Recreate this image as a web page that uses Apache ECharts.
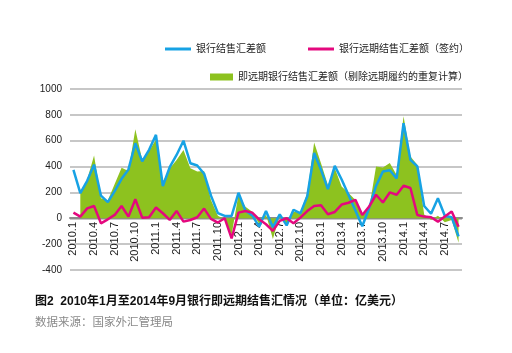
<!DOCTYPE html>
<html>
<head>
<meta charset="utf-8">
<script src="https://cdn.jsdelivr.net/npm/echarts@6/dist/echarts.min.js"></script>
<style>
  html, body { margin: 0; padding: 0; background: #fff; }
  #main { width: 512px; height: 353px; }
</style>
</head>
<body>
<div id="main"></div>
<script>
// 月份
var months = ['2010.1','2010.2','2010.3','2010.4','2010.5','2010.6','2010.7','2010.8','2010.9','2010.10','2010.11','2010.12',
    '2011.1','2011.2','2011.3','2011.4','2011.5','2011.6','2011.7','2011.8','2011.9','2011.10','2011.11','2011.12',
    '2012.1','2012.2','2012.3','2012.4','2012.5','2012.6','2012.7','2012.8','2012.9','2012.10','2012.11','2012.12',
    '2013.1','2013.2','2013.3','2013.4','2013.5','2013.6','2013.7','2013.8','2013.9','2013.10','2013.11','2013.12',
    '2014.1','2014.2','2014.3','2014.4','2014.5','2014.6','2014.7','2014.8','2014.9'];

// 银行结售汇差额
var bankNet = [375, 195, 290, 415, 175, 125, 210, 305, 378, 580, 440, 530,
    645, 250, 395, 490, 600, 426, 408, 345, 175, 40, 18, 18,
    197, 60, 22, -65, 56, -70, 30, -55, 66, 38, 170, 505,
    375, 226, 405, 300, 180, 60, -62, 80, 250, 362, 372, 308,
    735, 452, 402, 95, 35, 155, 20, 8, -140];

// 银行远期结售汇差额（签约）
var forwardNet = [44, 13, 77, 95, -39, -8, 26, 95, 13, 147, 5, 8,
    83, 39, -13, 57, -26, -13, 8, 75, -5, -33, 0, -156,
    44, 56, 44, -8, -46, -97, -20, 0, -38, 5, 56, 95,
    100, 31, 49, 106, 120, 143, 26, 91, 182, 122, 200, 182,
    252, 234, 26, 13, 8, -26, 13, 52, -65];

// 即远期银行结售汇差额（剔除远期履约的重复计算）
var spotNet = ['-', 195, 300, 485, 155, 140, 265, 390, 365, 689, 450, 520,
    610, 280, 385, 450, 529, 387, 361, 365, 142, 20, -10, -130,
    185, 90, 50, -45, 30, -160, 20, -50, 50, 45, 195, 586,
    426, 258, 387, 245, 195, 142, 30, 75, 400, 392, 428, 335,
    790, 478, 415, 30, -13, 20, -30, -13, -190];

var names = ['银行结售汇差额', '银行远期结售汇差额（签约）', '即远期银行结售汇差额（剔除远期履约的重复计算）'];

var myChart = echarts.init(document.getElementById('main'));
var option = {
    animation: false,
    textStyle: {fontFamily: '"Liberation Sans", "Noto Sans CJK SC", sans-serif'},
    legend: [
        {
            data: [names[0], names[1]],
            left: 160,
            top: 39,
            icon: 'rect',
            itemWidth: 26,
            itemHeight: 3,
            itemGap: 42,
            textStyle: {fontSize: 10, color: '#222'}
        },
        {
            data: [names[2]],
            left: 205,
            top: 67,
            icon: 'rect',
            itemWidth: 23,
            itemHeight: 7,
            textStyle: {fontSize: 10, color: '#222'}
        }
    ],
    grid: {
        left: 70,
        right: 50,
        top: 89,
        bottom: 83
    },
    xAxis: {
        type: 'category',
        data: months,
        boundaryGap: true,
        // 轴线放到0值处（标签一起上移）
        offset: -52,
        axisLine: {
            onZero: false,
            lineStyle: {color: '#8c8c8c', width: 2}
        },
        axisTick: {show: false},
        axisLabel: {
            interval: 2,
            rotate: 90,
            margin: 4,
            fontSize: 11,
            color: '#222'
        },
        splitLine: {show: false}
    },
    yAxis: {
        type: 'value',
        min: -400,
        max: 1000,
        interval: 200,
        axisLine: {show: false},
        axisTick: {show: false},
        axisLabel: {
            fontSize: 10,
            color: '#222',
            margin: 8,
            formatter: function (v) {
                return String(v);
            }
        },
        splitLine: {
            lineStyle: {color: '#b4b4b4', width: 1.5}
        }
    },
    series: [
        {
            name: names[2],
            type: 'line',
            data: spotNet,
            symbol: 'none',
            z: 1,
            itemStyle: {color: '#8dc21f'},
            lineStyle: {width: 0, color: '#8dc21f'},
            areaStyle: {color: '#8dc21f', opacity: 1}
        },
        {
            name: names[0],
            type: 'line',
            data: bankNet,
            symbol: 'none',
            z: 3,
            itemStyle: {color: '#17a2e4'},
            lineStyle: {width: 2.5, color: '#17a2e4'}
        },
        {
            name: names[1],
            type: 'line',
            data: forwardNet,
            symbol: 'none',
            z: 4,
            itemStyle: {color: '#e4087e'},
            lineStyle: {width: 2.5, color: '#e4087e'}
        }
    ],
    graphic: [
        {
            type: 'text',
            left: 35,
            top: 296,
            style: {
                text: '图2  2010年1月至2014年9月银行即远期结售汇情况（单位：亿美元）',
                font: 'bold 12px "Liberation Sans", "Noto Sans CJK SC", sans-serif',
                fill: '#111'
            }
        },
        {
            type: 'text',
            left: 35,
            top: 316,
            style: {
                text: '数据来源：国家外汇管理局',
                font: '11.5px "Noto Sans CJK SC", sans-serif',
                fill: '#8a8a8a'
            }
        }
    ]
};
myChart.setOption(option);
</script>
</body>
</html>
